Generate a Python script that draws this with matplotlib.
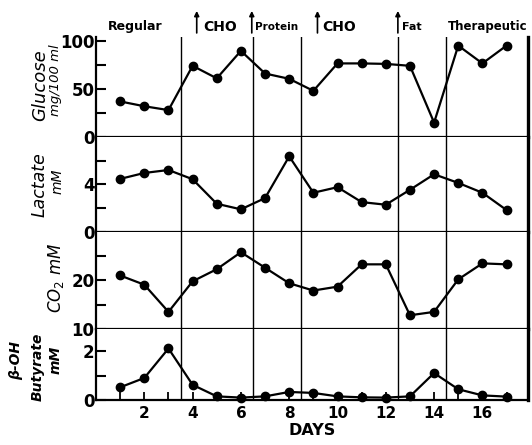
import matplotlib.pyplot as plt
from matplotlib.transforms import blended_transform_factory

days = list(range(1, 18))

glucose = [37, 32, 28, 74, 61, 89.5, 66, 60.5, 48, 76.5, 76.5, 76, 74, 15, 95, 76.5, 95]
lactate = [4.47, 4.97, 5.22, 4.44, 2.37, 1.9, 2.85, 6.37, 3.3, 3.77, 2.51, 2.29, 3.55, 4.86, 4.13, 3.3, 1.84]
co2 = [21.0, 19.1, 13.5, 19.8, 22.3, 25.8, 22.6, 19.4, 17.9, 18.7, 23.3, 23.3, 12.8, 13.5, 20.2, 23.5, 23.3]
butyrate = [0.52, 0.9, 2.1, 0.62, 0.15, 0.1, 0.15, 0.33, 0.29, 0.15, 0.11, 0.1, 0.15, 1.1, 0.44, 0.19, 0.14]

phase_lines = [3.5, 6.5, 8.5, 12.5, 14.5]
phase_labels = ["Regular", "CHO", "Protein", "CHO", "Fat", "Therapeutic"]
phase_text_x = [0.5, 4.42, 6.6, 9.38, 12.66, 14.58]
phase_arrow_x = [None, 4.17, 6.45, 9.17, 12.5, None]
phase_sizes = [9, 10, 7.5, 10, 8, 8.5]

fig = plt.figure(figsize=(5.32, 4.45), dpi=100)

left, width = 0.1805, 0.8125
# bottom, height of each panel (figure fraction)
boxes = [(0.692, 0.225), (0.479, 0.213), (0.261, 0.218), (0.101, 0.160)]
series = [glucose, lactate, co2, butyrate]
ylims = [(0, 104), (0, 8), (10, 30), (0, 2.9)]
yticks = [[0, 25, 50, 75, 100], [0, 2, 4, 6], [10, 15, 20, 25], [0, 1, 2]]
ylabs = [["0", "", "50", "", "100"], ["0", "", "4", ""], ["10", "", "20", ""], ["0", "", "2"]]

axes = []
for i, (b, h) in enumerate(boxes):
    ax = fig.add_axes([left, b, width, h])
    ax.plot(days, series[i], color="black", lw=1.6, marker="o", ms=6, clip_on=False, zorder=3)
    ax.set_xlim(0, 17.9)
    ax.set_ylim(*ylims[i])
    ax.set_yticks(yticks[i])
    ax.set_yticklabels(ylabs[i], fontsize=12, fontweight="bold")
    ax.tick_params(axis="y", direction="in", length=7, width=1.5, pad=1)
    for x in phase_lines:
        ax.axvline(x, color="black", lw=1.0, zorder=1)
    ax.spines["top"].set_visible(False)
    ax.spines["left"].set_linewidth(1.6)
    ax.spines["bottom"].set_linewidth(1.6)
    ax.spines["right"].set_linewidth(2.4)
    if i < 3:
        ax.set_xticks([])
    axes.append(ax)

ax_b = axes[-1]
ax_b.set_xticks(days)
ax_b.set_xticklabels([str(d) if d % 2 == 0 else "" for d in days], fontsize=11, fontweight="bold")
ax_b.tick_params(axis="x", direction="in", length=6, width=1.3, pad=4)
ax_b.set_xlabel("DAYS", fontsize=11.5, fontweight="bold", labelpad=2)

# phase headings above the top panel
ax_t = axes[0]
trans = blended_transform_factory(ax_t.transData, ax_t.transAxes)
for lab, tx, axx, fs in zip(phase_labels, phase_text_x, phase_arrow_x, phase_sizes):
    ax_t.text(tx, 1.10, lab, transform=trans, fontsize=fs, fontweight="bold", ha="left", va="center")
    if axx is not None:
        ax_t.annotate("", xy=(axx, 1.26), xytext=(axx, 1.04), xycoords=trans, textcoords=trans,
                      arrowprops=dict(arrowstyle="-|>", lw=1.2, color="black", mutation_scale=7,
                                      shrinkA=0, shrinkB=0), annotation_clip=False)

# y-axis labels
fig.text(40 / 532, 1 - 85 / 445, "Glucose", rotation=90, style="italic", fontsize=13, ha="center", va="center")
fig.text(56 / 532, 1 - 80 / 445, "mg/100 ml", rotation=90, style="italic", fontsize=9.5, ha="center", va="center")
fig.text(40 / 532, 1 - 185 / 445, "Lactate", rotation=90, style="italic", fontsize=12.5, ha="center", va="center")
fig.text(58 / 532, 1 - 181 / 445, "mM", rotation=90, style="italic", fontsize=10, ha="center", va="center")
fig.text(56 / 532, 1 - 278 / 445, "CO$_2$ mM", rotation=90, style="italic", fontsize=12, ha="center", va="center")
fig.text(16 / 532, 1 - 361 / 445, "β-OH", rotation=90, style="italic", fontweight="bold", fontsize=10, ha="center", va="center")
fig.text(38 / 532, 1 - 367 / 445, "Butyrate", rotation=90, style="italic", fontweight="bold", fontsize=10, ha="center", va="center")
fig.text(56 / 532, 1 - 360 / 445, "mM", rotation=90, style="italic", fontweight="bold", fontsize=10, ha="center", va="center")

fig.savefig("out.png", dpi=100)
